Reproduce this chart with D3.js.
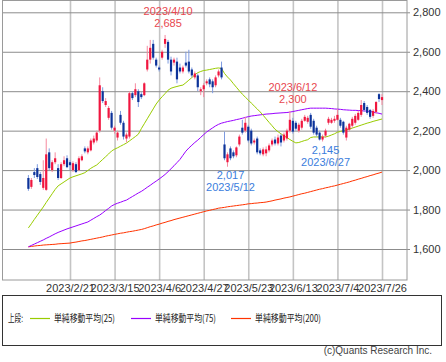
<!DOCTYPE html>
<html><head><meta charset="utf-8">
<script src="https://cdn.jsdelivr.net/npm/d3@7"></script>
<style>body{margin:0;background:#fff;} svg{display:block;}</style>
</head><body><svg id="c" width="446" height="362"></svg>
<script>
const dates = [
"2023/2/1","2023/2/2","2023/2/3","2023/2/6","2023/2/7","2023/2/8","2023/2/9","2023/2/10","2023/2/13","2023/2/14","2023/2/15","2023/2/16","2023/2/17","2023/2/20","2023/2/21","2023/2/22","2023/2/24","2023/2/27","2023/2/28",
"2023/3/1","2023/3/2","2023/3/3","2023/3/6","2023/3/7","2023/3/8","2023/3/9","2023/3/10","2023/3/13","2023/3/14","2023/3/15","2023/3/16","2023/3/17","2023/3/20","2023/3/22","2023/3/23","2023/3/24","2023/3/27","2023/3/28","2023/3/29","2023/3/30","2023/3/31",
"2023/4/3","2023/4/4","2023/4/5","2023/4/6","2023/4/7","2023/4/10","2023/4/11","2023/4/12","2023/4/13","2023/4/14","2023/4/17","2023/4/18","2023/4/19","2023/4/20","2023/4/21","2023/4/24","2023/4/25","2023/4/26","2023/4/27","2023/4/28",
"2023/5/1","2023/5/2","2023/5/8","2023/5/9","2023/5/10","2023/5/11","2023/5/12","2023/5/15","2023/5/16","2023/5/17","2023/5/18","2023/5/19","2023/5/22","2023/5/23","2023/5/24","2023/5/25","2023/5/26","2023/5/29","2023/5/30","2023/5/31",
"2023/6/1","2023/6/2","2023/6/5","2023/6/6","2023/6/7","2023/6/8","2023/6/9","2023/6/12","2023/6/13","2023/6/14","2023/6/15","2023/6/16","2023/6/19","2023/6/20","2023/6/21","2023/6/22","2023/6/23","2023/6/26","2023/6/27","2023/6/28","2023/6/29","2023/6/30",
"2023/7/3","2023/7/4","2023/7/5","2023/7/6","2023/7/7","2023/7/10","2023/7/11","2023/7/12","2023/7/13","2023/7/14","2023/7/18","2023/7/19","2023/7/20","2023/7/21","2023/7/24","2023/7/25","2023/7/26"];

const open = [1960,1915,1990,2010,1980,1910,1900,2090,2000,2040,2010,1960,2030,2060,2040,2000,2030,2000,2050,
2110,2090,2100,2140,2150,2200,2400,2330,2265,2290,2200,2165,2280,2240,2160,2170,2390,2380,2400,2385,2380,2510,
2560,2640,2560,2520,2570,2640,2650,2560,2545,2550,2520,2500,2545,2550,2510,2470,2480,2400,2410,2440,
2460,2450,2430,2480,2520,2130,2040,2110,2090,2075,2130,2215,2200,2220,2200,2140,2160,2100,2080,2085,
2100,2130,2155,2135,2175,2150,2160,2200,2250,2240,2200,2215,2250,2245,2280,2250,2215,2190,2155,2175,2240,2240,
2250,2255,2255,2245,2165,2205,2225,2240,2255,2280,2340,2320,2305,2275,2295,2385,2355];
const high = [1975,1960,2010,2030,1990,2050,2160,2110,2050,2090,2030,2040,2070,2075,2050,2045,2040,2070,2080,
2120,2120,2160,2175,2200,2470,2420,2365,2325,2300,2225,2200,2300,2250,2190,2400,2400,2440,2410,2395,2445,2630,
2660,2660,2570,2530,2610,2685,2660,2575,2570,2570,2540,2530,2600,2610,2520,2500,2490,2420,2440,2460,
2470,2460,2480,2510,2550,2195,2090,2120,2100,2120,2180,2255,2270,2230,2210,2160,2170,2110,2115,2120,
2135,2160,2170,2180,2185,2190,2210,2300,2265,2250,2240,2260,2280,2275,2290,2260,2225,2200,2180,2210,2270,2265,
2275,2310,2265,2250,2225,2240,2270,2285,2300,2355,2350,2330,2310,2310,2350,2390,2385];
const low = [1895,1905,1960,1955,1925,1900,1895,2000,1990,2030,1950,1955,2020,2010,2000,1990,1985,1995,2045,
2085,2080,2095,2130,2140,2190,2340,2320,2255,2205,2185,2150,2230,2155,2140,2160,2355,2370,2320,2360,2375,2500,
2540,2560,2520,2500,2560,2620,2540,2480,2530,2440,2490,2490,2520,2490,2470,2460,2400,2380,2370,2430,
2420,2390,2420,2470,2460,2050,2017,2050,2060,2065,2120,2180,2190,2140,2125,2130,2080,2075,2070,2070,
2090,2120,2125,2125,2120,2140,2150,2190,2185,2200,2190,2205,2245,2235,2210,2180,2170,2150,2145,2165,2230,2235,
2240,2250,2215,2180,2150,2195,2215,2230,2250,2270,2295,2280,2260,2265,2285,2345,2330];
const close = [1905,1950,1975,1965,1940,1960,2080,2010,2040,2060,1960,2030,2050,2015,2025,2035,1990,2060,2070,
2095,2110,2150,2160,2190,2430,2350,2350,2315,2215,2215,2190,2240,2170,2180,2390,2365,2410,2345,2370,2440,2560,
2620,2570,2530,2510,2600,2665,2560,2500,2560,2460,2500,2520,2530,2500,2480,2490,2420,2410,2430,2450,
2435,2420,2470,2500,2470,2060,2080,2060,2070,2115,2170,2190,2240,2150,2135,2150,2090,2085,2105,2105,
2125,2150,2135,2165,2140,2180,2200,2255,2195,2210,2230,2250,2270,2265,2220,2190,2180,2155,2170,2200,2260,2255,
2260,2280,2225,2190,2215,2235,2260,2275,2290,2330,2305,2290,2270,2300,2345,2360,2370];

const ma25 = [1707,1728,1750,1771,1792,1813,1836,1858,1880,1902,1920,1930,1940,1950,1960,1966,1971,1976,1981,
1987,1998,2009,2018,2026,2040,2054,2068,2082,2097,2106,2113,2121,2129,2137,2148,2159,2170,2182,2210,2235,2260,
2285,2310,2335,2355,2372,2388,2405,2415,2420,2424,2428,2431,2443,2456,2469,2483,2494,2500,2505,2507,
2510,2513,2516,2518,2515,2490,2472,2457,2438,2420,2402,2385,2370,2355,2340,2325,2310,2295,2278,2260,
2242,2225,2207,2195,2184,2173,2165,2155,2146,2138,2140,2145,2150,2154,2165,2168,2168,2168,2168,2168,2172,2178,
2184,2192,2196,2200,2204,2208,2213,2218,2223,2228,2233,2238,2242,2247,2251,2255,2259];
const ma75 = [1611,1618,1625,1632,1639,1646,1654,1661,1669,1677,1684,1690,1696,1702,1707,1712,1717,1722,1727,
1732,1737,1746,1755,1764,1772,1783,1795,1806,1818,1826,1832,1837,1843,1848,1857,1866,1875,1884,1892,1902,1913,
1923,1934,1944,1955,1966,1978,1992,2007,2022,2038,2054,2075,2096,2112,2126,2140,2152,2166,2180,2193,
2204,2214,2224,2232,2238,2242,2246,2249,2252,2256,2259,2263,2267,2271,2274,2276,2278,2280,2282,2284,
2285,2286,2288,2289,2290,2291,2292,2294,2297,2300,2303,2306,2309,2312,2314,2314,2314,2314,2314,2314,2313,2312,
2310,2309,2308,2306,2305,2304,2303,2303,2302,2301,2300,2299,2297,2294,2291,2288,2284];
const ma200 = [1611,1613,1615,1617,1618,1620,1621,1622,1623,1624,1626,1627,1628,1629,1630,1633,1635,1638,1641,
1643,1646,1649,1652,1655,1658,1661,1665,1668,1671,1674,1677,1680,1682,1685,1688,1690,1693,1696,1699,1703,1708,
1713,1717,1722,1726,1731,1735,1740,1744,1749,1753,1757,1761,1765,1769,1773,1777,1781,1785,1789,1793,
1796,1800,1803,1807,1809,1811,1814,1816,1818,1820,1822,1824,1826,1829,1830,1832,1833,1835,1836,1838,
1841,1844,1848,1851,1854,1858,1861,1864,1868,1872,1876,1880,1883,1887,1891,1895,1899,1903,1906,1910,1913,1917,
1920,1924,1928,1932,1936,1940,1945,1949,1954,1958,1963,1967,1972,1976,1981,1985,1990];

const xTicks = ["2023/2/21","2023/3/15","2023/4/6","2023/4/27","2023/5/23","2023/6/13","2023/7/4","2023/7/26"];
const yTicks = [1600,1800,2000,2200,2400,2600,2800];
const annDates = ["2023/4/10","2023/6/12","2023/5/12","2023/6/27"];
const annValues = [2685,2300,2017,2145];
const annKinds = ["high","high","low","low"];
const legendNames = ["単純移動平均(25)","単純移動平均(75)","単純移動平均(200)"];
const legendColors = ["#99cc00","#9900ff","#ff3300"];

const svg = d3.select("#c");
const L = 2.5, T = 0.5, R = 407, B = 280;
const numFont = "'Liberation Sans Narrow','Arial Narrow','Liberation Sans',sans-serif";
const jpFont = "'Noto Sans CJK JP',sans-serif";

const x = d3.scalePoint().domain(dates).range([28.4, 382]);
const y = d3.scaleLinear().domain([1600, 2800]).range([249, 12.3]);

// vertical grid + date labels
const gx = svg.append("g").attr("transform", `translate(0,${B})`)
  .call(d3.axisBottom(x).tickValues(xTicks).tickSize(-(B - T)).tickSizeOuter(0));
gx.select(".domain").remove();
gx.selectAll(".tick line").attr("stroke", "#c4c4c4").attr("stroke-width", 1.6);
gx.selectAll(".tick text").attr("y", 12).attr("dy", 0)
  .attr("font-family", numFont).attr("font-size", 11).attr("fill", "#333");

// horizontal grid + price labels
const gy = svg.append("g").attr("transform", `translate(410,0)`)
  .call(d3.axisRight(y).tickValues(yTicks).tickSize(-(410 - L)).tickPadding(3).tickFormat(d3.format(",")));
gy.select(".domain").remove();
gy.selectAll(".tick line").attr("stroke", "#8c8c8c").attr("stroke-width", 1);
gy.selectAll(".tick text").attr("font-family", numFont).attr("font-size", 11).attr("fill", "#333");

// frame
svg.append("rect").attr("x", L).attr("y", T).attr("width", R - L).attr("height", B - T)
  .attr("fill", "none").attr("stroke", "#9a9a9a").attr("stroke-width", 1);

// moving averages
const maSeries = [ma200, ma75, ma25];
const maColors = ["#ff3300", "#9900ff", "#99cc00"];
maSeries.forEach((s, k) => {
  svg.append("path").datum(s)
    .attr("fill", "none").attr("stroke", maColors[k]).attr("stroke-width", 1)
    .attr("d", d3.line().x((v, i) => x(dates[i])).y(v => y(v)));
});

// candles
const idx = d3.range(dates.length);
const cg = svg.append("g");
cg.selectAll("line.w").data(idx).join("line")
  .attr("x1", i => x(dates[i])).attr("x2", i => x(dates[i]))
  .attr("y1", i => y(high[i])).attr("y2", i => y(low[i]))
  .attr("stroke", i => close[i] >= open[i] ? "#f5899f" : "#7d9be0").attr("stroke-width", 1);
cg.selectAll("rect.b").data(idx).join("rect")
  .attr("x", i => x(dates[i]) - 1.1).attr("width", 2.2)
  .attr("y", i => y(Math.max(open[i], close[i])))
  .attr("height", i => Math.max(1, Math.abs(y(open[i]) - y(close[i]))))
  .attr("fill", i => close[i] >= open[i] ? "#f0163f" : "#0d3399");

// annotations
annDates.forEach((d, k) => {
  const cx = x(d) + 3, cy = y(annValues[k]);
  const hi = annKinds[k] === "high";
  const col = hi ? "#e8474f" : "#3b7ddd";
  const vt = d3.format(",")(annValues[k]);
  const lines = hi ? [[d, cy - 20], [vt, cy - 8]] : [[vt, cy + 12.5], [d, cy + 24.5]];
  lines.forEach(([t, yy]) => svg.append("text").attr("x", cx).attr("y", yy)
    .attr("text-anchor", "middle").attr("font-family", numFont).attr("font-size", 11)
    .attr("fill", col).text(t));
});

// legend
svg.append("rect").attr("x", 2.5).attr("y", 295.5).attr("width", 439).attr("height", 50)
  .attr("fill", "none").attr("stroke", "#333").attr("stroke-width", 1);
svg.append("text").attr("x", 8).attr("y", 322).attr("font-family", jpFont).attr("font-size", 10)
  .attr("fill", "#222").attr("textLength", 15).attr("lengthAdjust", "spacingAndGlyphs").text("上段:");
const lx = [30, 131, 231];
const lw = [61, 61, 66];
legendNames.forEach((n, k) => {
  svg.append("line").attr("x1", lx[k]).attr("x2", lx[k] + 20).attr("y1", 318.5).attr("y2", 318.5)
    .attr("stroke", legendColors[k]).attr("stroke-width", 1.2);
  svg.append("text").attr("x", lx[k] + 24).attr("y", 322).attr("font-family", jpFont)
    .attr("font-size", 10).attr("fill", "#222")
    .attr("textLength", lw[k]).attr("lengthAdjust", "spacingAndGlyphs").text(n);
});
svg.append("text").attr("x", 432).attr("y", 354).attr("text-anchor", "end")
  .attr("font-family", numFont).attr("font-size", 10).attr("fill", "#444").text("(c)Quants Research Inc.");
</script></body></html>
